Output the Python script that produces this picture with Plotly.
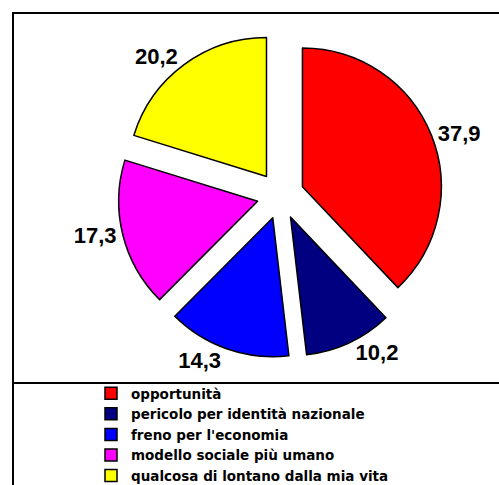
import plotly.graph_objects as go

categories = ["opportunità", "pericolo per identità nazionale", "freno per l'economia",
              "modello sociale più umano", "qualcosa di lontano dalla mia vita"]
values = [37.9, 10.2, 14.3, 17.3, 20.2]
colors = ["#FF0000", "#000080", "#0000FF", "#FF00FF", "#FFFF00"]

W, H = 499, 485


def px(x):
    return x / W


def py(y):
    return 1 - y / H


fig = go.Figure(go.Pie(
    labels=categories,
    values=values,
    sort=False,
    direction="clockwise",
    rotation=0,
    pull=[0.17] * len(values),
    marker=dict(colors=colors, line=dict(color="black", width=1.5)),
    textposition="outside",
    texttemplate="%{value:.1f}",
    textfont=dict(family="Liberation Sans, Arial", size=22, color="black", weight="bold"),
    domain=dict(x=[px(118), px(443)], y=[py(358), py(33)]),
    hoverinfo="label+value",
))

fig.update_layout(
    width=W, height=H,
    margin=dict(l=0, r=0, t=0, b=0, autoexpand=False),
    separators=",.",
    paper_bgcolor="white",
    plot_bgcolor="white",
    font=dict(family="Liberation Sans, Arial", color="black"),
    showlegend=True,
    legend=dict(
        x=px(91), y=py(378), xanchor="left", yanchor="top",
        font=dict(family="DejaVu Sans", size=13.5, color="black", weight="bold"),
        bgcolor="rgba(0,0,0,0)",
        itemwidth=30,
    ),
    shapes=[
        dict(type="rect", xref="paper", yref="paper",
             x0=px(13), x1=1.1, y0=-0.1, y1=py(13),
             line=dict(color="black", width=2), fillcolor="rgba(0,0,0,0)"),
        dict(type="line", xref="paper", yref="paper",
             x0=px(13), x1=1.1, y0=py(383), y1=py(383),
             line=dict(color="black", width=2)),
    ],
)

fig.write_html(
    "out.html",
    config={"displayModeBar": False},
    post_script="document.body.style.margin='0';document.body.style.overflow='hidden';",
)
